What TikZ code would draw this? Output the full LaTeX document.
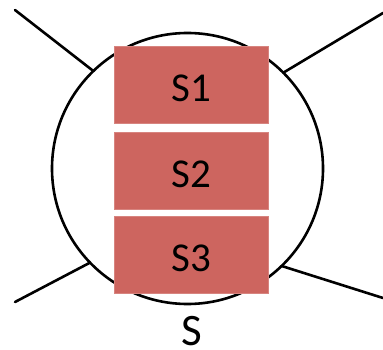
\documentclass[tikz,border=0pt]{standalone}
\usepackage{fontspec}
\setmainfont{Carlito}
\definecolor{boxred}{RGB}{205,101,95}
\begin{document}
\begin{tikzpicture}[x=1pt,y=-1pt,
  ring/.style={circle,draw=black,line width=2.6pt,minimum size=271pt,inner sep=0pt,outer sep=0pt},
  part/.style={fill=boxred,draw=boxred!80!white,line width=0.6pt,minimum width=154pt,minimum height=77pt,inner sep=0pt,text height=33pt,text depth=0pt,font=\fontsize{41}{41}\selectfont},
  leg/.style={line width=2.6pt,line cap=round},
  lab/.style={inner sep=0pt,font=\fontsize{45}{45}\selectfont}]
\useasboundingbox (0,0) rectangle (383,350);
\node[ring] (c) at (187.5,168.5) {};
\node[part] (s1) at (191,85) {S1};
\node[part] (s2) at (191,170.5) {S2};
\node[part] (s3) at (191,254.5) {S3};
\node[lab,anchor=north] (s) at (192,316) {S};
\coordinate (ul) at (15,10);
\coordinate (ur) at (383,13);
\coordinate (ll) at (15,302);
\coordinate (lr) at (383,298);
\draw[leg] (c.134.7) -- (ul);
\draw[leg] (c.45.6) -- (ur);
\draw[leg] (c.224.7) -- (ll);
\draw[leg] (c.314.7) -- (lr);
\end{tikzpicture}
\end{document}
